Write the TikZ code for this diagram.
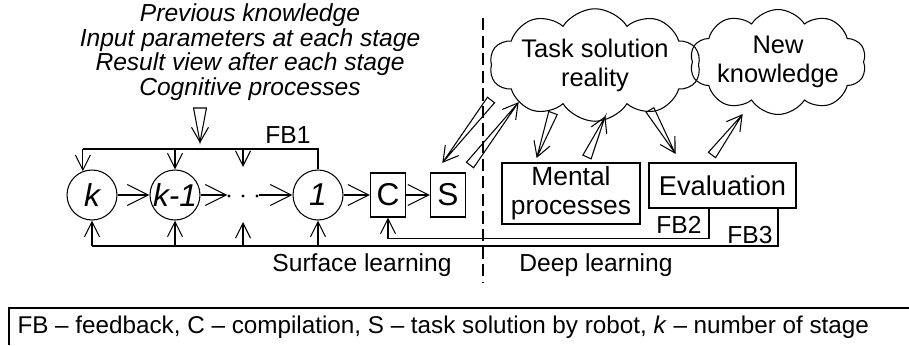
\documentclass[tikz,border=0pt]{standalone}
\usepackage{fontspec}
\setmainfont{Liberation Sans}
\usetikzlibrary{arrows.meta,calc,shapes.symbols}
\tikzset{
  stage/.style={draw, circle, minimum size=1cm, inner sep=0pt, font=\fontsize{18}{20}\selectfont\itshape},
  blk/.style={draw, minimum width=0.7cm, minimum height=0.88cm, inner sep=0pt, font=\fontsize{18}{20}\selectfont},
  cloudy/.style={draw, cloud, cloud puffs=10, cloud puff arc=115, cloud ignores aspect, align=center, inner sep=0pt, font=\fontsize{14.5}{16.5}\selectfont},
  flow/.style={-{Straight Barb[length=0.42cm,width=0.42cm]}},
  fb/.style={-{Straight Barb[length=0.3cm,width=0.3cm]}},
}
% wide hollow arrow: [half width]{from}{to}
\newcommand{\hollow}[3][0.09cm]{%
  \draw ($(#2)!#1!90:(#3)$) -- (#3) -- ($(#2)!#1!-90:(#3)$) -- cycle;
  \draw ($(#3)!0.34cm!30:(#2)$) -- (#3) -- ($(#3)!0.34cm!-30:(#2)$);}
\begin{document}
\begin{tikzpicture}[x=0.02cm, y=-0.02cm, line width=0.6pt, font=\fontsize{14}{16}\selectfont]
\useasboundingbox (0,0) rectangle (909,345);
\node[align=center, font=\fontsize{14}{12.3}\selectfont\itshape] (input) at (250,52)
  {Previous knowledge\\Input parameters at each stage\\Result view after each stage\\Cognitive processes};

% stages
\node[stage] (k) at (92,195) {k};
\node[stage] (km1) at (175,195) {k-1};
\node[minimum width=0.6cm, inner sep=0pt] (dots) at (243,195) {};
\foreach \x in {-14,0,14} \fill ($(dots)+(\x,1)$) circle (0.9pt);
\node[stage] (one) at (318,195) {1};
\node[blk] (c) at (388,195) {C};
\node[blk] (s) at (448,195) {S};
\draw[flow] (k) -- (km1);
\draw[flow] (km1) -- (dots);
\draw[flow] (dots) -- (one);
\draw[flow] (one) -- (c);
\draw[flow] (c) -- (s);

% FB1
\coordinate (fb1) at (0,149);
\coordinate (din) at (243,167);
\draw (one) -- (one |- fb1) -- (k.111 |- fb1);
\draw[fb] (k.111 |- fb1) -- (k.111);
\draw[fb] (km1 |- fb1) -- (km1);
\draw[fb] (din |- fb1) -- (din);
\node (fb1lbl) at (288,135) {FB1};

% deep part
\node[cloudy, minimum width=4.0cm, minimum height=2.25cm] (task) at (595,65) {Task solution\\reality};
\node[cloudy, minimum width=2.75cm, minimum height=2.1cm] (new) at (778,62) {New\\knowledge};
\node[draw, minimum width=2.76cm, minimum height=1.22cm, align=center, inner sep=0pt, font=\fontsize{15}{16.5}\selectfont] (mental) at (571,193.5) {Mental\\processes};
\node[draw, minimum width=2.94cm, minimum height=0.9cm, inner sep=0pt, font=\fontsize{15.5}{18}\selectfont] (eval) at (722.5,185.5) {Evaluation};

% FB2, FB3 and lower feedback
\coordinate (bot) at (0,246);
\coordinate (dout) at (243,222);
\coordinate (fb2) at ($(eval.south)+(-13.5,0)$);
\coordinate (fb3) at ($(eval.south)+(55.5,0)$);
\draw (k |- bot) -- (bot -| fb3) -- (fb3);
\foreach \n in {k,km1,dout,one} \draw[fb] (\n |- bot) -- (\n);
\draw[fb] (fb2) |- ($(c.south)+(0,21)$) -- (c);
\node (fb2lbl) at (679,225) {FB2};
\node (fb3lbl) at (750,235) {FB3};

% hollow arrows
\coordinate (t1) at (491,100); \coordinate (s1) at (443,162);
\coordinate (s2) at (470,165); \coordinate (t2) at (518,103);
\coordinate (t3) at (553,113); \coordinate (m3) at (537,157);
\coordinate (m4) at (587,157); \coordinate (t4) at (605,117);
\coordinate (t5) at (650,110); \coordinate (e5) at (675,153);
\coordinate (e6) at (712,155); \coordinate (n6) at (742,115);
\coordinate (i7) at (200,108); \coordinate (f7) at (200,142);
\hollow{t1}{s1}
\hollow{s2}{t2}
\hollow{t3}{m3}
\hollow{m4}{t4}
\hollow{t5}{e5}
\hollow{e6}{n6}
\hollow[0.13cm]{i7}{f7}

% divider
\draw[dash pattern=on 7pt off 3pt] (483,18) -- (483,283);
\node (surf) at (362,265) {Surface learning};
\node (deep) at (596,265) {Deep learning};

% legend
\draw (9,345) |- (909,308);
\node[anchor=west, inner sep=0pt, font=\fontsize{13.8}{16}\selectfont] (legend) at (17,327)
  {FB – feedback, C – compilation, S – task solution by robot, \textit{k} – number of stage};
\end{tikzpicture}
\end{document}
